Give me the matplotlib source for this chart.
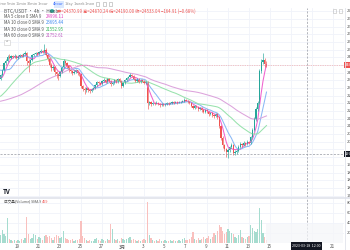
import numpy as np
import pandas as pd
import matplotlib
matplotlib.use('Agg')
import matplotlib.pyplot as plt
from matplotlib.patches import Rectangle

plt.rcParams['font.family'] = ['Noto Sans CJK SC', 'DejaVu Sans']

# BTC/USDT 4h candles, first visible candle = 17 Feb 08:00
# closes before the window, only needed for the moving averages
warmup_closes = [22900, 23100, 23250,
                 23200, 23150, 23050, 22950, 22900, 22950,
                 22900, 22800, 22500, 22100, 21850, 21800,
                 21700, 21750, 21600, 21550, 21650, 21650,
                 21700, 21750, 21800, 21850, 21800, 21850,
                 21900, 21850, 21800, 21900, 21800, 21800,
                 21700, 21500, 21400, 21650, 21750, 21800,
                 21850, 21900, 22000, 22100, 22150, 22200,
                 22300, 22400, 22600, 23200, 23900, 24300,
                 24400, 24500, 24600, 24700, 24200, 23600,
                 23500, 23650]

closes = [23880, 24150, 24500, 24600, 24820, 24760, 24850, 24800, 24880, 24770,
          24830, 24900, 24860, 24950, 25050, 24600, 24480, 24650, 24900, 24980,
          25050, 24950, 25100, 25150, 25080, 25200, 24900, 24700, 24400, 24250,
          24300, 24050, 23950, 23850, 24050, 24300, 24600, 24500, 24350, 24150,
          24100, 24000, 24050, 24120, 24000, 23950, 23300, 23150, 23080, 23200,
          23100, 23050, 23150, 23200, 23350, 23500, 23450, 23400, 23550, 23600,
          23500, 23650, 23550, 23400, 23450, 23600, 23500, 23650, 23550, 23300,
          23450, 23600, 23700, 23800, 23900, 23850, 23650, 23550, 23650, 23500,
          23600, 23550, 23450, 23500, 22400, 22450, 22350, 22400, 22380, 22420,
          22350, 22300, 22350, 22320, 22360, 22400, 22380, 22420, 22450, 22430,
          22470, 22420, 22450, 22480, 22500, 22600, 22550, 22480, 22400, 22250,
          22150, 22250, 22200, 22100, 22150, 22050, 21950, 22050, 21980, 21850,
          21900, 21800, 21750, 21850, 21700, 21200, 20600, 20250, 20050, 19850,
          19950, 20150, 20250, 19800, 19850, 19900, 20150, 20300, 20250, 20350,
          20300, 20400, 20350, 20650, 21000, 21600, 22100, 22400, 24100, 24550,
          24650, 24450, 24400]

highs = [23950, 24200, 24550, 24700, 24900, 24950, 24900, 24920, 24950, 24920,
         24900, 24980, 24950, 25000, 25150, 25100, 24700, 24700, 24950, 25050,
         25100, 25100, 25150, 25250, 25200, 25480, 25300, 24950, 24750, 24500,
         24400, 24350, 24100, 24000, 24100, 24350, 24700, 24650, 24550, 24400,
         24200, 24150, 24150, 24200, 24150, 24050, 24000, 23350, 23250, 23250,
         23250, 23150, 23200, 23250, 23400, 23550, 23550, 23500, 23600, 23700,
         23650, 23700, 23700, 23600, 23500, 23650, 23650, 23700, 23700, 23600,
         23500, 23650, 23750, 23850, 24000, 23950, 23900, 23700, 23700, 23700,
         23650, 23650, 23600, 23550, 23550, 22550, 22500, 22450, 22450, 22500,
         22450, 22400, 22400, 22400, 22400, 22450, 22450, 22480, 22500, 22500,
         22520, 22500, 22500, 22550, 22600, 22700, 22650, 22600, 22550, 22450,
         22300, 22300, 22300, 22250, 22200, 22200, 22100, 22100, 22100, 22000,
         21950, 21950, 21850, 21900, 21900, 21750, 21250, 20700, 20300, 20100,
         20100, 20200, 20350, 20300, 19950, 20000, 20250, 20400, 20350, 20450,
         20400, 20500, 20450, 20700, 21100, 21700, 22200, 22500, 24200, 24700,
         25050, 24750, 24600]

lows = [23600, 23850, 24100, 24400, 24550, 24700, 24700, 24750, 24750, 24700,
        24720, 24800, 24800, 24820, 24900, 24400, 24050, 24400, 24600, 24850,
        24900, 24900, 24900, 25050, 25000, 25050, 24850, 24600, 24300, 24100,
        24150, 23900, 23700, 23600, 23800, 24000, 24250, 24400, 24250, 24050,
        24000, 23900, 23950, 24000, 23900, 23850, 23200, 23050, 22900, 23000,
        23000, 22950, 23000, 23100, 23150, 23300, 23400, 23350, 23350, 23500,
        23450, 23450, 23500, 23300, 23350, 23400, 23450, 23450, 23500, 23200,
        23250, 23400, 23550, 23650, 23750, 23750, 23600, 23500, 23500, 23450,
        23450, 23500, 23400, 23400, 22100, 22300, 22250, 22300, 22300, 22350,
        22300, 22200, 22250, 22250, 22280, 22300, 22320, 22350, 22380, 22380,
        22400, 22380, 22400, 22400, 22450, 22450, 22500, 22400, 22350, 22200,
        22100, 22100, 22150, 22000, 22050, 21950, 21900, 21900, 21900, 21750,
        21800, 21700, 21650, 21700, 21600, 21100, 20500, 20100, 19900, 19600,
        19550, 19850, 20100, 19700, 19700, 19750, 19850, 20100, 20150, 20200,
        20200, 20250, 20300, 20300, 20600, 20950, 21500, 22000, 22350, 24000,
        24450, 24300, 24300]

# volume, hundreds of BTC
volumes = [16, 26, 18, 14, 50, 8, 6, 4, 6, 4, 6, 4, 8, 6, 10, 52, 18, 8, 10, 18,
           16, 8, 12, 10, 6, 14, 16, 12, 14, 10, 6, 12, 16, 14, 10, 12, 24, 10, 8, 6,
           6, 8, 4, 6, 6, 8, 44, 14, 10, 6, 4, 6, 4, 4, 8, 10, 6, 4, 8, 6,
           4, 8, 6, 38, 28, 8, 6, 8, 4, 10, 8, 6, 8, 10, 12, 6, 8, 6, 4, 6,
           4, 6, 8, 6, 82, 16, 10, 6, 4, 6, 4, 8, 4, 4, 6, 4, 4, 6, 4, 6,
           4, 4, 6, 4, 8, 10, 6, 6, 8, 12, 22, 8, 6, 10, 6, 8, 12, 8, 10, 14,
           8, 12, 20, 16, 24, 36, 32, 24, 18, 22, 28, 24, 20, 18, 12, 10, 16, 26, 12, 10,
           8, 12, 14, 36, 30, 24, 22, 28, 70, 46, 20, 12, 6]

# 17 and 19 March sit under the crosshair date box, so they are not shown
x_tick_pos = [10, 22, 34, 46, 58, 70, 82, 94, 106, 118, 130, 142, 154, 166, 178, 190]
x_tick_labels = ['19', '21', '23', '25', '27', '3月', '3', '5', '7', '9', '11', '13',
                 '15', '', '', '21']

ma_lengths = [5, 10, 30, 60]
ma_colors = ['#f062cf', '#8ab8f5', '#98e2ad', '#dca3dc']
ma_text_colors = ['#e040c0', '#3d8af0', '#36b85a', '#c05ec0']
ma_values_shown = ['24996.11', '23695.44', '21552.95', '21752.61']

crosshair_idx = 175
crosshair_price = 19760

W, H = 350, 250
fig = plt.figure(figsize=(3.5, 2.5), dpi=100)


def px_axes(x0, y0, x1, y1):
    return fig.add_axes([x0 / W, 1 - y1 / H, (x1 - x0) / W, (y1 - y0) / H])


def T(x, y, s, **kw):
    kw.setdefault('fontsize', 3.3)
    kw.setdefault('va', 'center')
    fig.text(x / W, 1 - y / H, s, **kw)


closes = np.array(closes, dtype=float)
highs = np.array(highs, dtype=float)
lows = np.array(lows, dtype=float)
opens = np.concatenate([[warmup_closes[-1]], closes[:-1]])
idx = np.arange(len(closes))
up = closes >= opens
candle_col = np.where(up, '#26a69a', '#ef5350')
vol_col = np.where(up, '#a6dccf', '#f9c0be')

ax = px_axes(0, 8, 344, 197)
axv = px_axes(0, 198, 344, 243)
for a in (ax, axv):
    a.set_xlim(-0.3, 196.3)
    for s in a.spines.values():
        s.set_visible(False)
    a.tick_params(length=0, labelleft=False, labelbottom=False)
    a.set_xticks(x_tick_pos)
    a.grid(color='#f0f3fa', lw=0.6)
    a.set_axisbelow(True)
    a.axvline(crosshair_idx, color='#9598a1', lw=0.5, ls=(0, (3, 2)))

ax.set_ylim(17525, 27370)
price_ticks = np.arange(17600, 27400, 400)
ax.set_yticks(price_ticks)
for p in price_ticks:
    # the last price and crosshair tags cover the nearby axis labels
    if abs(p - closes[-1]) < 250 or abs(p - crosshair_price) < 250:
        continue
    ax.text(1.008, p, f'{p:.2f}', transform=ax.get_yaxis_transform(),
            fontsize=3, color='#555', va='center', clip_on=False)

# moving averages
full = pd.Series(list(warmup_closes) + list(closes))
n0 = len(warmup_closes)
for n, c in zip(ma_lengths, ma_colors):
    ma = full.rolling(n).mean().values[n0:]
    ax.plot(idx, ma, color=c, lw=0.75)

# candles
ax.vlines(idx, lows, highs, colors=candle_col, lw=0.45)
ax.bar(idx, np.maximum(np.abs(closes - opens), 25), bottom=np.minimum(opens, closes),
       width=0.72, color=candle_col, lw=0)

# last price line and crosshair
ax.axhline(closes[-1], color='#ef5350', lw=0.5, ls=(0, (1, 1.5)), alpha=0.6)
ax.axhline(crosshair_price, color='#9598a1', lw=0.5, ls=(0, (3, 2)))
ax.text(1.003, closes[-1], f'{closes[-1]:.2f}', transform=ax.get_yaxis_transform(),
        fontsize=3, color='white', va='center', clip_on=False,
        bbox=dict(boxstyle='square,pad=0.25', fc='#ef5350', ec='none'))
ax.text(1.003, crosshair_price, f'{crosshair_price:.2f}', transform=ax.get_yaxis_transform(),
        fontsize=3, color='white', va='center', clip_on=False,
        bbox=dict(boxstyle='square,pad=0.25', fc='#131722', ec='none'))

# volume pane
axv.set_ylim(0, 90)
axv.set_yticks([20, 40, 60, 80])
axv.bar(idx, volumes, width=0.72, color=vol_col, lw=0)
for v in [20, 40, 60, 80]:
    axv.text(1.008, v, f'{v * 100:.0f}', transform=axv.get_yaxis_transform(),
             fontsize=3, color='#555', va='center', clip_on=False)
axv.add_patch(Rectangle((151.5, 0), 44.5, 38, facecolor='#f5f6f9', alpha=0.7,
                        edgecolor='none', zorder=3))

# time axis
for p, lab in zip(x_tick_pos, x_tick_labels):
    if lab:
        T(p * 1.75, 247, lab, ha='center', color='#555', fontsize=3.3)
fig.patches.append(Rectangle((291 / W, 1 - 250 / H), 31 / W, 8 / H, transform=fig.transFigure,
                             facecolor='#131722', edgecolor='none', zorder=5))
T(306.5, 246, '2023-03-18  12:00', ha='center', color='white', fontsize=2.6, zorder=6)

# pane borders
fig.add_artist(plt.Line2D([0, 1], [1 - 197.5 / H] * 2, color='#e0e3eb', lw=1.2))
fig.add_artist(plt.Line2D([344.5 / W] * 2, [0, 1 - 8 / H], color='#e0e3eb', lw=0.6))

# toolbar
tools = ['Time', '5min', '15min', '30min', '1hour', '4hour', '1day', '1week', '1mon']
tool_x = [2.5, 11.5, 21.5, 32.5, 43, 58.5, 69, 79, 89.5]
fig.patches.append(Rectangle((54 / W, 1 - 7.5 / H), 10 / W, 6.5 / H, transform=fig.transFigure,
                             facecolor='#dbe8fd', edgecolor='none'))
for t, x in zip(tools, tool_x):
    T(x, 4, t, ha='center', color='#2962ff' if t == '4hour' else '#888', fontsize=2.7)
for x in [98, 104, 110]:
    fig.patches.append(Rectangle(((x - 1.5) / W, 1 - 5.5 / H), 3 / W, 3 / H,
                                 transform=fig.transFigure, facecolor='none',
                                 edgecolor='#aaa', lw=0.4))

# legend
T(4, 11, 'BTC/USDT · 4h · Huobi', color='#555', fontsize=3.4)
fig.patches.append(plt.Circle((52 / W, 1 - 11 / H), 1.6 / W, transform=fig.transFigure,
                              color='#26a69a'))
T(57, 11, '开=24370.99 高=24870.24 低=24190.00 收=24533.04 −164.91 (−0.68%)',
  color='#ef5350', fontsize=3.1)
for i, (n, c, v) in enumerate(zip(ma_lengths, ma_text_colors, ma_values_shown)):
    yy = 16.5 + i * 6.3
    T(4, yy, f'MA {n} close 0 SMA 9', color='#555', fontsize=3.1)
    T(46, yy, v, color=c, fontsize=3.1)
fig.patches.append(Rectangle((4 / W, 1 - 45 / H), 6 / W, 5 / H, transform=fig.transFigure,
                             facecolor='white', edgecolor='#ccc', lw=0.4))
T(7, 42.5, '^', ha='center', color='#666', fontsize=3)
for x in [334, 340]:
    fig.patches.append(Rectangle(((x - 1.5) / W, 1 - 12.5 / H), 3 / W, 3 / H,
                                 transform=fig.transFigure, facecolor='none',
                                 edgecolor='#bbb', lw=0.4))

T(4, 202, '成交量(Volume) SMA 9', color='#555', fontsize=2.6)
T(42, 202, '459', color='#ef5350', fontsize=2.8)
T(7, 191, 'TV', color='#131722', fontsize=4.5, fontweight='bold', ha='center')

fig.savefig('out.png', dpi=100)
